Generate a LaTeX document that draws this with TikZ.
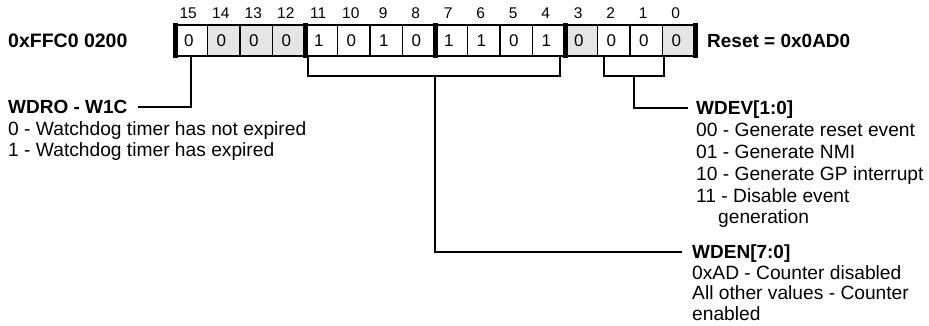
\documentclass[tikz,border=0pt]{standalone}
\usepackage{fontspec}
\setmainfont{Liberation Sans}
\definecolor{shade}{RGB}{229,229,229}
\tikzset{
  cell/.style={draw, line width=1.2pt, minimum width=32.5pt, minimum height=31pt, inner sep=0pt, outer sep=0pt, font=\fontsize{17}{19}\selectfont},
  bitnum/.style={inner sep=0pt, font=\fontsize{15.5}{18}\selectfont},
  fieldname/.style={inner sep=0pt, anchor=west, text height=13.6pt, text depth=0pt, font=\bfseries\fontsize{19}{22}\selectfont},
  desc/.style={inner sep=0pt, anchor=base west, font=\fontsize{19.2}{22}\selectfont},
  conn/.style={line width=2pt},
  regbar/.style={line width=5pt},
}
\begin{document}
\begin{tikzpicture}[x=1pt,y=-1pt]
\useasboundingbox (0,0) rectangle (929,326);
\fill[white] (0,0) rectangle (929,326);
% register cells
\foreach \b/\v/\f in {15/0/white,14/0/shade,13/0/shade,12/0/shade,11/1/white,10/0/white,9/1/white,8/0/white,7/1/white,6/1/white,5/0/white,4/1/white,3/0/shade,2/0/white,1/0/white,0/0/shade}{
  \pgfmathsetmacro{\cx}{175+32.5*(15-\b)+16.25}
  \node[cell, fill=\f] (c\b) at (\cx,40.5) {\hspace*{-5pt}\v};
  \node[bitnum] (n\b) at (\cx-3,13.5) {\b};
}
\draw[line width=2pt] (c15.north west) rectangle (c0.south east);
\foreach \n/\a in {c15/west,c11/west,c7/west,c3/west,c0/east}{
  \draw[regbar] ([yshift=17.8pt]\n.\a) -- ([yshift=-17.8pt]\n.\a);
}
% labels
\node[fieldname, font=\bfseries\fontsize{19.5}{22}\selectfont] (addr) at (8,40.5) {0xFFC0 0200};
\node[fieldname] (reset) at (707,40.5) {Reset = 0x0AD0};

\node[fieldname] (wdro) at (8,107) {WDRO - W1C};
\node[desc] (wdro1) at ([yshift=-21.5pt]wdro.base west) {0 - Watchdog timer has not expired};
\node[desc] (wdro2) at ([yshift=-43pt]wdro.base west) {1 - Watchdog timer has expired};

\node[fieldname] (wdev) at (696,108) {WDEV[1:0]};
\node[desc] (wdev1) at ([yshift=-21.8pt]wdev.base west) {00 - Generate reset event};
\node[desc] (wdev2) at ([yshift=-43.6pt]wdev.base west) {01 - Generate NMI};
\node[desc] (wdev3) at ([yshift=-65.4pt]wdev.base west) {10 - Generate GP interrupt};
\node[desc] (wdev4) at ([yshift=-87.2pt]wdev.base west) {11 - Disable event};
\node[desc] (wdev5) at ([xshift=22pt,yshift=-109pt]wdev.base west) {generation};

\node[fieldname] (wden) at (692,252) {WDEN[7:0]};
\node[desc] (wden1) at ([yshift=-20.5pt]wden.base west) {0xAD - Counter disabled};
\node[desc] (wden2) at ([yshift=-41pt]wden.base west) {All other values - Counter};
\node[desc] (wden3) at ([yshift=-61.5pt]wden.base west) {enabled};

% connectors
\draw[conn] (c15.south) |- ([xshift=10pt]wdro.east);

\coordinate (enL) at (308,56);
\coordinate (enR) at (560,56);
\coordinate (enM) at (435,76);
\draw[conn] (enL) |- (enM) -| (enR);
\draw[conn] (enM) |- ([xshift=-10pt]wden.west);

\coordinate (evL) at (603.5,56);
\coordinate (evR) at (664,56);
\coordinate (evM) at (633.5,76);
\draw[conn] (evL) |- (evM) -| (evR);
\draw[conn] (evM) |- ([xshift=-8pt]wdev.west);
\end{tikzpicture}
\end{document}
